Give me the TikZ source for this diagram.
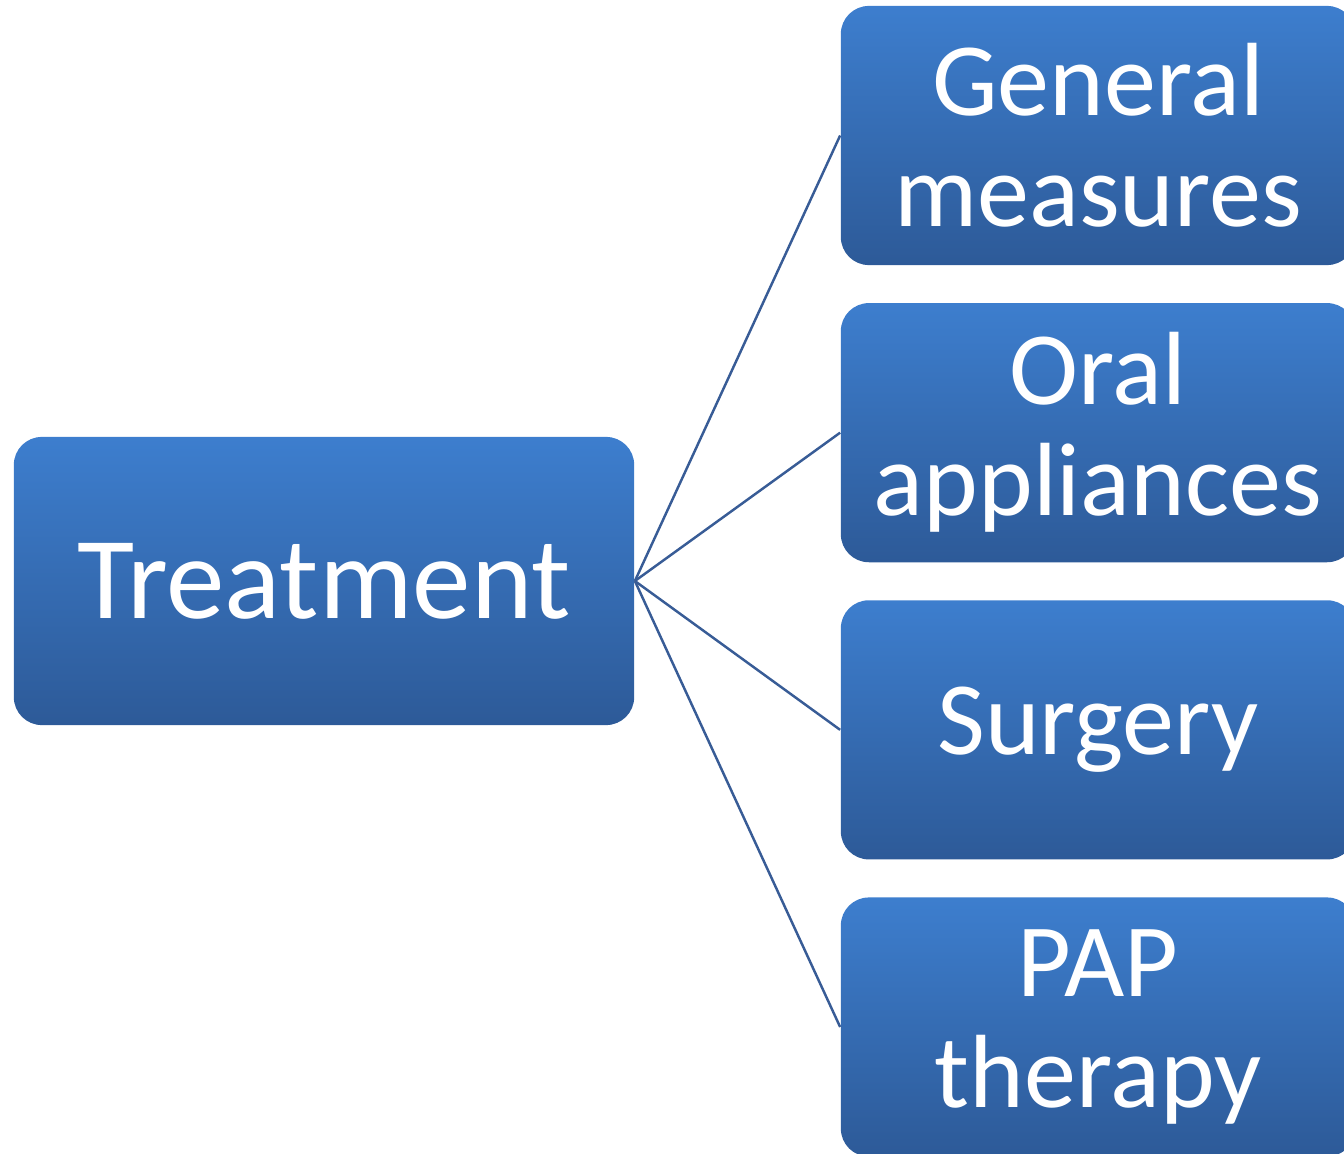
\documentclass[tikz,border=0pt]{standalone}
\usepackage{fontspec}
\setmainfont{Carlito}
\usetikzlibrary{positioning}
\definecolor{boxtop}{RGB}{61,126,206}
\definecolor{boxbottom}{RGB}{45,90,152}
\definecolor{linkblue}{RGB}{56,92,150}
\begin{document}
\begin{tikzpicture}[x=0.01cm,y=-0.01cm,node distance=2.97cm,
		main node/.style = {rounded corners=0.28cm, top color=boxtop, bottom color=boxbottom, text=white, align=center, inner sep = 0pt},
		root node/.style = {main node, minimum width=6.2cm, minimum height=2.88cm, font=\fontsize{33.3}{35}\selectfont},
		leaf node/.style = {main node, minimum width=5.14cm, minimum height=2.59cm, font=\fontsize{29.6}{31.6}\selectfont}]
		\useasboundingbox (0,0) rectangle (1344,1154);
		
		\node[root node] (1) at (324,581) {Treatment};
		\node[leaf node] (2) at (1098,135.5) {General\\measures};
		\node[leaf node] [below of = 2](3) {Oral\\appliances};
		\node[leaf node] [below of = 3](4) {Surgery};
		\node[leaf node] [below of = 4](5) {PAP\\therapy};
		
		\path[-,draw=linkblue,line width=0.7pt]
		(1.east) edge (2.west)
		(1.east) edge (3.west)
		(1.east) edge (4.west)
		(1.east) edge (5.west);
\end{tikzpicture}
\end{document}
